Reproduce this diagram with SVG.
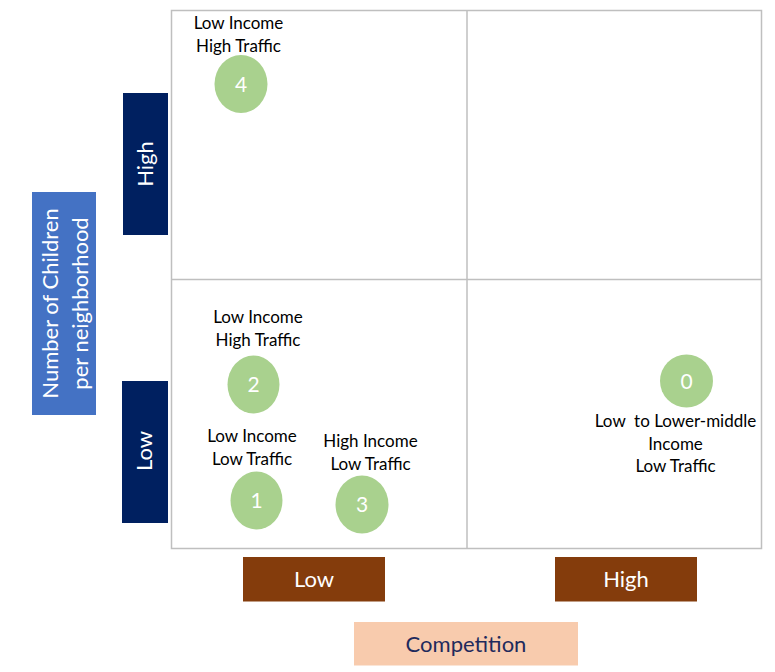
<svg xmlns="http://www.w3.org/2000/svg" width="775" height="672" viewBox="0 0 775 672">
<style>
.grid{fill:none;stroke:#BFBFBF;stroke-width:1.5}
.lbl{font-family:Lato,"Open Sans",sans-serif;font-size:17px;fill:#000;text-anchor:middle;white-space:pre}
.num{font-family:Lato,"Open Sans",sans-serif;font-size:21px;fill:#fff;text-anchor:middle}
.circ{fill:#A9D18E}
.box{font-family:Lato,"Open Sans",sans-serif;font-size:22px;fill:#fff;text-anchor:middle}
</style>
<rect width="775" height="672" fill="#fff"/>
<g id="grid">
<rect class="grid" x="171.5" y="10.5" width="590" height="538"/>
<line class="grid" x1="467" y1="10.5" x2="467" y2="548.5"/>
<line class="grid" x1="171.5" y1="279.5" x2="761.5" y2="279.5"/>
</g>
<g id="y-axis-title">
<rect x="32" y="192" width="64" height="223" fill="#4472C4"/>
<text class="box" transform="translate(58,303.5) rotate(-90)" x="0" y="0">Number of Children</text>
<text class="box" transform="translate(88,303.5) rotate(-90)" x="0" y="0">per neighborhood</text>
</g>
<g id="y-high">
<rect x="123" y="93" width="45" height="142" fill="#002060"/>
<text class="box" transform="translate(153,164) rotate(-90)">High</text>
</g>
<g id="y-low">
<rect x="122" y="381" width="46" height="142" fill="#002060"/>
<text class="box" transform="translate(152,451) rotate(-90)">Low</text>
</g>
<g id="x-low">
<rect x="243" y="557" width="142" height="44.5" fill="#843C0C"/>
<text class="box" x="314" y="587">Low</text>
</g>
<g id="x-high">
<rect x="555" y="557" width="142" height="44.5" fill="#843C0C"/>
<text class="box" x="626" y="587">High</text>
</g>
<g id="x-axis-title">
<rect x="354" y="622" width="224" height="43.5" fill="#F8CBAD"/>
<text class="box" x="466" y="652" style="fill:#1F2A5C">Competition</text>
</g>
<g id="node-4">
<text class="lbl" x="238.5" y="29">Low Income</text>
<text class="lbl" x="238.5" y="52">High Traffic</text>
<ellipse class="circ" cx="241" cy="84" rx="26.5" ry="29"/>
<text class="num" x="241" y="91.5">4</text>
</g>
<g id="node-2">
<text class="lbl" x="258" y="323">Low Income</text>
<text class="lbl" x="258" y="346">High Traffic</text>
<ellipse class="circ" cx="253.5" cy="384.5" rx="26" ry="29"/>
<text class="num" x="253.5" y="392">2</text>
</g>
<g id="node-1">
<text class="lbl" x="252" y="442">Low Income</text>
<text class="lbl" x="252" y="465">Low Traffic</text>
<ellipse class="circ" cx="256.5" cy="500.5" rx="26" ry="29"/>
<text class="num" x="256.5" y="508">1</text>
</g>
<g id="node-3">
<text class="lbl" x="370.5" y="446.5">High Income</text>
<text class="lbl" x="370.5" y="469.5">Low Traffic</text>
<ellipse class="circ" cx="362" cy="504.5" rx="26.5" ry="29"/>
<text class="num" x="362" y="512">3</text>
</g>
<g id="node-0">
<ellipse class="circ" cx="686.5" cy="381" rx="26.5" ry="26.5"/>
<text class="num" x="686.5" y="388.5">0</text>
<text class="lbl" x="675.5" y="426.5" xml:space="preserve">Low  to Lower-middle</text>
<text class="lbl" x="675.5" y="450">Income</text>
<text class="lbl" x="675.5" y="472">Low Traffic</text>
</g>
<g id="connectors"/>
</svg>
